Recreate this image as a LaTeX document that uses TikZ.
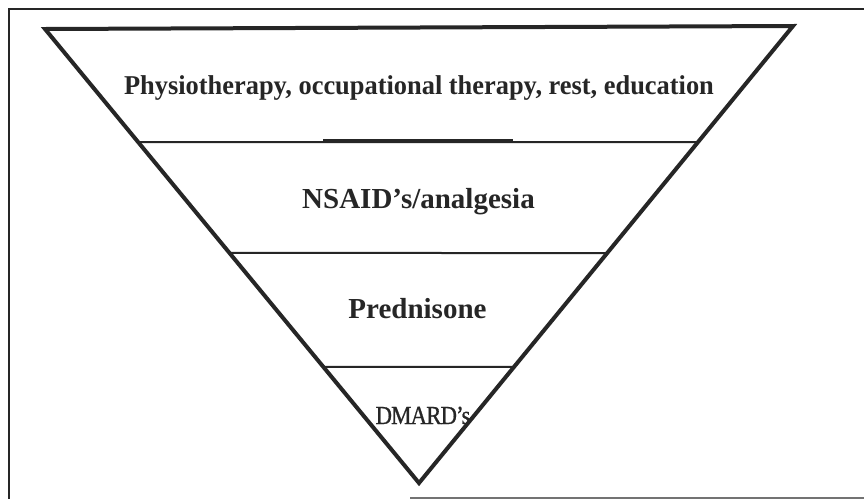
\documentclass[tikz,border=0pt]{standalone}
\usepackage{fontspec}
\setmainfont{Liberation Serif}
\newfontfamily\dmfont[FakeBold=0.8,LetterSpace=-4]{Liberation Serif}
\usetikzlibrary{calc}
\tikzset{
  frameline/.style={draw=black!85, line width=2pt},
  sepline/.style={draw=black!85, line width=2pt},
  triline/.style={draw=black!85, line width=4pt, line join=miter},
  boldlabel/.style={anchor=base, inner sep=0pt, text=black!85, font=\bfseries\fontsize{29}{32}\selectfont},
}
\begin{document}
\begin{tikzpicture}[x=1pt,y=-1pt]
\useasboundingbox (0,0) rectangle (864,499);
\fill[white] (0,0) rectangle (864,499);
% frame
\coordinate (F1) at (864,9);
\coordinate (F2) at (9,9);
\coordinate (F3) at (9,499);
\draw[frameline] (F1) -- (F2) -- (F3);
\coordinate (G1) at (410,498);
\coordinate (G2) at (864,498);
\draw[draw=black!55, line width=2pt] (G1) -- (G2);
% triangle vertices
\coordinate (TL) at (45,29);
\coordinate (TR) at (793,26);
\coordinate (B) at (419,483);
% separators
\coordinate (L1) at ($(TL)!0.249!(B)$);
\coordinate (R1) at ($(TR)!0.254!(B)$);
\coordinate (L2) at ($(TL)!0.493!(B)$);
\coordinate (R2) at ($(TR)!0.497!(B)$);
\coordinate (L3) at ($(TL)!0.744!(B)$);
\coordinate (R3) at ($(TR)!0.746!(B)$);
\draw[sepline] (L1) -- (R1);
\draw[sepline] (L2) -- (R2);
\draw[sepline] (L3) -- (R3);
\coordinate (K1) at (323,140.5);
\coordinate (K2) at (513,140.5);
\draw[draw=black!85, line width=3pt] (K1) -- (K2);
\draw[triline] (TL) -- (TR) -- (B) -- cycle;
% labels
\node[boldlabel, font=\bfseries\fontsize{26.4}{30}\selectfont] (t1) at (419,94) {\scalebox{1}[1.03]{Physiotherapy, occupational therapy, rest, education}};
\node[boldlabel] (t2) at (418.5,208) {NSAID’s/analgesia};
\node[boldlabel] (t3) at (417.5,318) {Prednisone};
\node[anchor=base, inner sep=0pt, text=black!85, font=\dmfont\fontsize{26}{28}\selectfont] (t4) at (423,424) {\scalebox{0.88}[1]{DMARD’s}};
\end{tikzpicture}
\end{document}
